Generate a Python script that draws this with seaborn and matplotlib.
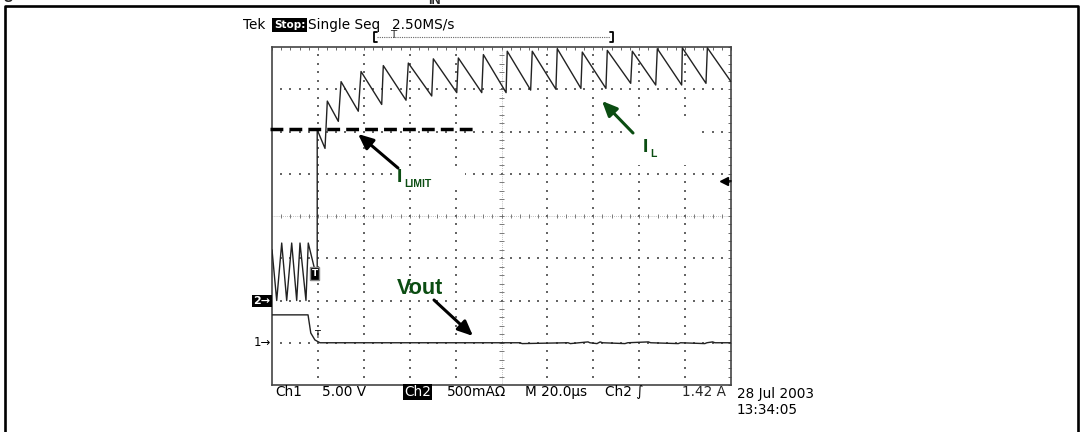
import numpy as np
import pandas as pd
import matplotlib
matplotlib.use("Agg")
import matplotlib.pyplot as plt
import seaborn as sns
from matplotlib.lines import Line2D
from matplotlib.patches import Rectangle, FancyArrowPatch

# ---------------- data ----------------
# Ch2: inductor current I_L  (time in microseconds, current in A)
t_il = [0, 2.05, 4.23, 6.40, 8.58, 10.76, 12.2, 14.8, 15.8, 19.2, 19.7, 19.7,
        23.1, 24.1, 28.9, 30.1, 37.6, 38.8, 47.8, 48.5, 58.4, 59.4, 69.6, 70.3,
        80.5, 81.2, 91.4, 92.1, 102.0, 102.5, 112.7, 113.4, 123.7, 124.3,
        134.6, 135.2, 145.5, 146.1, 156.3, 157.0, 167.2, 167.9, 178.5, 178.8,
        189.1, 189.7, 200.0]
il = [0.60, 0.0, 0.68, 0.0, 0.68, 0.0, 0.68, 0.0, 0.68, 0.30, 0.30, 2.02,
      1.80, 2.36, 2.12, 2.59, 2.24, 2.71, 2.32, 2.78, 2.37, 2.81, 2.42, 2.86,
      2.46, 2.87, 2.46, 2.91, 2.46, 2.95, 2.49, 2.95, 2.50, 2.98,
      2.51, 2.94, 2.51, 2.96, 2.57, 2.95, 2.55, 2.98, 2.55, 2.99,
      2.57, 2.99, 2.59]

# Ch1: output voltage Vout (time in microseconds, volts)
t_vout = [0, 15.7, 16.9, 18.7, 20.9, 50, 52, 80, 108, 109, 129, 130, 137.7, 138.5,
          141.6, 143, 144, 153.8, 155, 164, 165, 177, 178, 188.6, 189.5, 192, 193, 200]
vout = [3.3, 3.3, 1.15, 0.33, 0.0, 0.0, 0.0, 0.0, 0.0, -0.1, 0.0, -0.1, 0.1, 0.0,
        -0.1, 0.1, 0.0, -0.1, 0.0, 0.1, 0.0, -0.1, 0.0, -0.1, 0.0, 0.1, 0.0, 0.0]

ilimit_level = 2.03      # A, dashed current-limit line
trigger_level = 1.42     # A

# scope settings
ch1_volts_per_div = 5.0
ch2_amps_per_div = 0.5
us_per_div = 20.0
ch1_ground_div = -3.0
ch2_ground_div = -2.0

# ---------------- figure ----------------
sns.set_style("white")
plt.rcParams["font.family"] = ["DejaVu Sans"]

W, H = 1080, 432
fig = plt.figure(figsize=(W / 100, H / 100), dpi=100)


def F(x, y):
    return (x / W, 1 - y / H)


ax = fig.add_axes([272 / W, 47 / H, 459 / W, 338 / H])
ax.set_xlim(0, 10)
ax.set_ylim(-4, 4)

# graticule dots
minor = np.arange(0.2, 9.9, 0.2)
yminor = np.arange(-3.8, 3.9, 0.2)
dot = dict(s=0.9, marker="s", color="#666666", linewidths=0, zorder=1)
for gx in [1, 2, 3, 4, 6, 7, 8, 9]:
    ax.scatter(np.full(len(yminor), gx), yminor, **dot)
for gy in [-3, -2, -1, 1, 2, 3]:
    ax.scatter(minor, np.full(len(minor), gy), **dot)
ax.axhline(0, ls=(0, (1, 2)), lw=0.5, color="#888888", zorder=1)
ax.axvline(5, ls=(0, (1, 2)), lw=0.5, color="#888888", zorder=1)
ax.vlines(minor, -0.05, 0.05, lw=0.6, color="#666666", zorder=1)
ax.hlines(yminor, 4.94, 5.06, lw=0.6, color="#666666", zorder=1)

ax.set_xticks(np.arange(0, 10.01, 0.2))
ax.set_yticks(np.arange(-4, 4.01, 0.2))
ax.tick_params(direction="in", length=2.5, width=0.7, color="#666666",
               top=True, right=True, labelbottom=False, labelleft=False)
for s in ax.spines.values():
    s.set_color("#444444")
    s.set_linewidth(1.2)

# traces
df_il = pd.DataFrame({"x": np.array(t_il) / us_per_div,
                      "y": np.array(il) / ch2_amps_per_div + ch2_ground_div})
df_v = pd.DataFrame({"x": np.array(t_vout) / us_per_div,
                     "y": np.array(vout) / ch1_volts_per_div + ch1_ground_div})
sns.lineplot(data=df_il, x="x", y="y", sort=False, estimator=None,
             color="#222222", lw=1.0, ax=ax, zorder=3)
sns.lineplot(data=df_v, x="x", y="y", sort=False, estimator=None,
             color="#222222", lw=1.0, ax=ax, zorder=3)
ax.set_xlabel("")
ax.set_ylabel("")

# I_LIMIT dashed line
yl = ilimit_level / ch2_amps_per_div + ch2_ground_div
ax.plot([-0.04, 4.37], [yl, yl], color="black", lw=2.5,
        ls=(0, (3.7, 1.75)), solid_capstyle="butt", dash_capstyle="butt",
        clip_on=False, zorder=4)

# trigger level marker on the right edge
ytr = trigger_level / ch2_amps_per_div + ch2_ground_div
ax.plot([9.83, 10], [ytr, ytr], color="black", lw=1.2, clip_on=False, zorder=4)
ax.plot([9.85], [ytr], marker="<", ms=6, color="black", clip_on=False, zorder=4)

# white patches behind annotation labels
fig.add_artist(Rectangle(F(628, 165), 74 / W, 43 / H, transform=fig.transFigure,
                         facecolor="white", edgecolor="none", zorder=1))
fig.add_artist(Rectangle(F(395, 190), 70 / W, 24 / H, transform=fig.transFigure,
                         facecolor="white", edgecolor="none", zorder=1))

# outer frame (left, top, right)
fig.add_artist(Line2D([5 / W, 5 / W, 1078 / W, 1078 / W],
                      [0, 1 - 6 / H, 1 - 6 / H, 0],
                      transform=fig.transFigure, color="black", lw=1.9))

# cut-off caption at the very top
fig.text(-10 / W, 1 + 1 / H, "Figure", fontsize=12, fontweight="bold",
         family="Liberation Sans", va="baseline", ha="left")
fig.text(428 / W, 1 - 4 / H, "IN", fontsize=9, fontweight="bold",
         family="Liberation Sans", va="baseline", ha="left")

# header
FS = 9.8
mono = dict(fontsize=FS, color="black", va="center", ha="left")
fig.text(*F(243, 25), "Tek", **mono)
fig.text(*F(274, 25), "Stop:", color="white", fontsize=7.5, fontweight="bold",
         va="center", ha="left",
         bbox=dict(facecolor="black", edgecolor="none", pad=1.3))
fig.text(*F(308, 25), "Single Seq", **mono)
fig.text(*F(392, 25), "2.50MS/s", **mono)

# record bracket
fig.add_artist(Line2D([377 / W, 374 / W, 374 / W, 377 / W],
                      [1 - 32 / H, 1 - 32 / H, 1 - 42 / H, 1 - 42 / H],
                      transform=fig.transFigure, color="black", lw=1.3))
fig.add_artist(Line2D([610 / W, 613 / W, 613 / W, 610 / W],
                      [1 - 32 / H, 1 - 32 / H, 1 - 42 / H, 1 - 42 / H],
                      transform=fig.transFigure, color="black", lw=1.3))
fig.add_artist(Line2D([377 / W, 610 / W], [1 - 37 / H, 1 - 37 / H],
                      transform=fig.transFigure, color="#666666", lw=0.8,
                      ls=(0, (1, 1))))
fig.text(*F(393.5, 35), "T", fontsize=7.5, ha="center", va="center")

# channel markers
fig.text(*F(262, 301), "2\u2192", color="white", fontsize=8, fontweight="bold",
         ha="center", va="center",
         bbox=dict(facecolor="black", edgecolor="none", pad=0.8))
fig.text(*F(262, 343), "1\u2192", color="black", fontsize=8.5,
         ha="center", va="center")
fig.text(*F(314.5, 273.5), "T", color="white", fontsize=6.5, fontweight="bold",
         ha="center", va="center",
         bbox=dict(facecolor="black", edgecolor="#888888", pad=1.2))
fig.text(*F(317, 335), "T", color="black", fontsize=7, ha="center", va="center")

# footer
fig.text(*F(275, 392), "Ch1", **mono)
fig.text(*F(322, 392), "5.00 V", **mono)
fig.text(*F(404, 392), "Ch2", color="white", fontsize=FS, va="center", ha="left",
         bbox=dict(facecolor="black", edgecolor="none", pad=0.8))
fig.text(*F(447, 392), "500mA\u03a9", **mono)
fig.text(*F(525, 392), "M 20.0\u00b5s", **mono)
fig.text(*F(605, 392), "Ch2 \u222b", **mono)
fig.text(*F(726, 392), "1.42 A", fontsize=FS, va="center", ha="right")
fig.text(*F(737, 394), "28 Jul 2003", **mono)
fig.text(*F(737, 410), "13:34:05", **mono)

# annotations
green = "#0b4d12"
fig.text(*F(397, 182), "I", color=green, fontsize=14, fontweight="bold",
         family="Liberation Sans", ha="left", va="baseline")
fig.text(*F(404, 187), "LIMIT", color=green, fontsize=7.5, fontweight="bold",
         family="Liberation Sans", ha="left", va="baseline")
fig.text(*F(643, 152), "I", color=green, fontsize=14, fontweight="bold",
         family="Liberation Sans", ha="left", va="baseline")
fig.text(*F(650, 157), "L", color=green, fontsize=7.5, fontweight="bold",
         family="Liberation Sans", ha="left", va="baseline")
fig.text(*F(397, 294), "Vout", color=green, fontsize=15.5, fontweight="bold",
         family="Liberation Sans", ha="left", va="baseline")


def arrow(tail, head, color):
    fig.add_artist(FancyArrowPatch(F(*tail), F(*head), transform=fig.transFigure,
                                   arrowstyle="-|>,head_length=0.9,head_width=0.4",
                                   mutation_scale=10, lw=2.2, color=color,
                                   shrinkA=0, shrinkB=0, zorder=5))


arrow((398, 168), (358, 134), "black")
arrow((633, 133), (602, 101), green)
arrow((434, 300), (473, 336), "black")

fig.savefig("out.png", dpi=100)
